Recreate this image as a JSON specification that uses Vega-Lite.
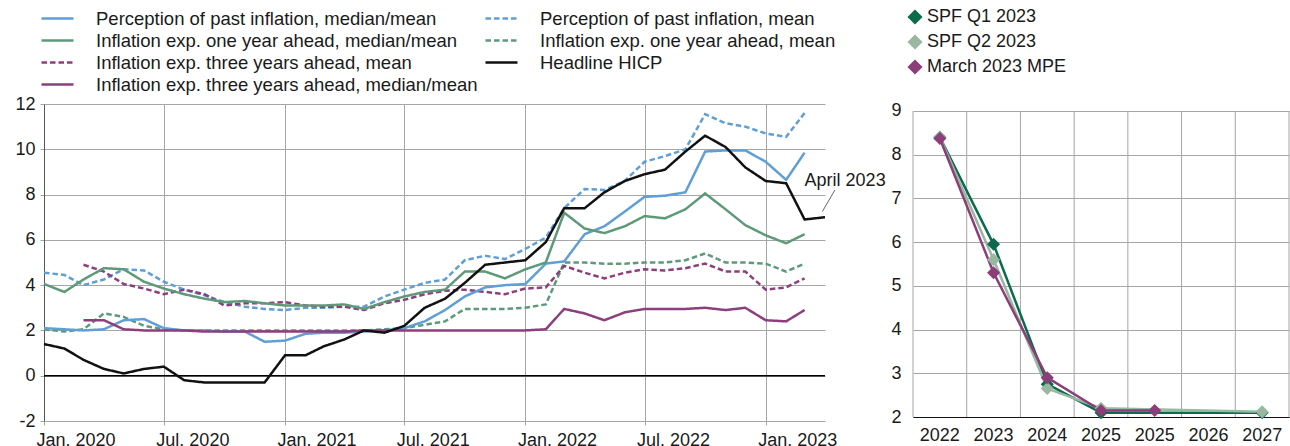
{
  "$schema": "https://vega.github.io/schema/vega-lite/v6.json",
  "padding": {"left": 14, "top": 7, "right": 0, "bottom": 0},
  "columns": 2,
  "align": "none",
  "spacing": 4,
  "resolve": {"scale": {"color": "independent", "strokeDash": "independent"}, "legend": {"color": "independent", "strokeDash": "independent"}},
  "config": {
    "font": "Liberation Sans",
    "view": {"stroke": null},
    "axis": {"labelFont": "Liberation Sans", "labelFontSize": 18, "labelColor": "#1a1a1a", "gridColor": "#a6a6a6", "gridWidth": 1, "tickColor": "#a6a6a6", "title": null},
    "legend": {"labelFont": "Liberation Sans", "labelColor": "#1a1a1a", "title": null}
  },
  "concat": [
    {
      "width": 781,
      "height": 317,
      "data": {"values": [
        {"date": "2020-01-01", "pm": 2.1, "pa": 4.55, "om": 4.05, "oa": 2.05, "ta": null, "tm": null, "hicp": 1.4},
        {"date": "2020-02-01", "pm": 2.05, "pa": 4.45, "om": 3.7, "oa": 1.95, "ta": null, "tm": null, "hicp": 1.2},
        {"date": "2020-03-01", "pm": 2.0, "pa": 4.0, "om": 4.25, "oa": 2.05, "ta": 4.9, "tm": 2.45, "hicp": 0.7},
        {"date": "2020-04-01", "pm": 2.05, "pa": 4.25, "om": 4.75, "oa": 2.75, "ta": 4.6, "tm": 2.45, "hicp": 0.3},
        {"date": "2020-05-01", "pm": 2.45, "pa": 4.7, "om": 4.7, "oa": 2.6, "ta": 4.05, "tm": 2.05, "hicp": 0.1},
        {"date": "2020-06-01", "pm": 2.5, "pa": 4.65, "om": 4.15, "oa": 2.2, "ta": 3.85, "tm": 2.0, "hicp": 0.3},
        {"date": "2020-07-01", "pm": 2.1, "pa": 4.15, "om": 3.85, "oa": 2.05, "ta": 3.6, "tm": 2.0, "hicp": 0.4},
        {"date": "2020-08-01", "pm": 2.0, "pa": 3.8, "om": 3.6, "oa": 2.0, "ta": 3.8, "tm": 2.0, "hicp": -0.2},
        {"date": "2020-09-01", "pm": 2.0, "pa": 3.55, "om": 3.4, "oa": 2.0, "ta": 3.6, "tm": 1.95, "hicp": -0.3},
        {"date": "2020-10-01", "pm": 1.95, "pa": 3.25, "om": 3.25, "oa": 2.0, "ta": 3.1, "tm": 1.95, "hicp": -0.3},
        {"date": "2020-11-01", "pm": 1.95, "pa": 3.05, "om": 3.3, "oa": 2.0, "ta": 3.2, "tm": 1.95, "hicp": -0.3},
        {"date": "2020-12-01", "pm": 1.5, "pa": 2.95, "om": 3.2, "oa": 2.0, "ta": 3.2, "tm": 1.95, "hicp": -0.3},
        {"date": "2021-01-01", "pm": 1.55, "pa": 2.9, "om": 3.1, "oa": 2.0, "ta": 3.25, "tm": 1.95, "hicp": 0.9},
        {"date": "2021-02-01", "pm": 1.85, "pa": 3.0, "om": 3.1, "oa": 2.0, "ta": 3.1, "tm": 1.95, "hicp": 0.9},
        {"date": "2021-03-01", "pm": 1.9, "pa": 3.0, "om": 3.1, "oa": 2.0, "ta": 3.05, "tm": 1.95, "hicp": 1.3},
        {"date": "2021-04-01", "pm": 1.9, "pa": 3.05, "om": 3.15, "oa": 2.0, "ta": 3.05, "tm": 1.95, "hicp": 1.6},
        {"date": "2021-05-01", "pm": 1.95, "pa": 3.05, "om": 2.95, "oa": 2.0, "ta": 2.9, "tm": 2.0, "hicp": 2.0},
        {"date": "2021-06-01", "pm": 2.0, "pa": 3.5, "om": 3.25, "oa": 2.05, "ta": 3.2, "tm": 2.0, "hicp": 1.9},
        {"date": "2021-07-01", "pm": 2.1, "pa": 3.8, "om": 3.5, "oa": 2.1, "ta": 3.35, "tm": 2.0, "hicp": 2.2},
        {"date": "2021-08-01", "pm": 2.4, "pa": 4.1, "om": 3.7, "oa": 2.25, "ta": 3.6, "tm": 2.0, "hicp": 3.0},
        {"date": "2021-09-01", "pm": 2.9, "pa": 4.25, "om": 3.8, "oa": 2.4, "ta": 3.75, "tm": 2.0, "hicp": 3.4},
        {"date": "2021-10-01", "pm": 3.5, "pa": 5.1, "om": 4.6, "oa": 2.95, "ta": 3.8, "tm": 2.0, "hicp": 4.1},
        {"date": "2021-11-01", "pm": 3.9, "pa": 5.3, "om": 4.6, "oa": 2.95, "ta": 3.7, "tm": 2.0, "hicp": 4.9},
        {"date": "2021-12-01", "pm": 4.0, "pa": 5.15, "om": 4.3, "oa": 2.95, "ta": 3.6, "tm": 2.0, "hicp": 5.0},
        {"date": "2022-01-01", "pm": 4.05, "pa": 5.6, "om": 4.7, "oa": 3.0, "ta": 3.85, "tm": 2.0, "hicp": 5.1},
        {"date": "2022-02-01", "pm": 4.95, "pa": 6.1, "om": 5.0, "oa": 3.15, "ta": 3.9, "tm": 2.05, "hicp": 5.9},
        {"date": "2022-03-01", "pm": 5.05, "pa": 7.4, "om": 7.2, "oa": 5.0, "ta": 4.85, "tm": 2.95, "hicp": 7.4},
        {"date": "2022-04-01", "pm": 6.25, "pa": 8.25, "om": 6.5, "oa": 5.0, "ta": 4.55, "tm": 2.75, "hicp": 7.4},
        {"date": "2022-05-01", "pm": 6.6, "pa": 8.2, "om": 6.3, "oa": 4.95, "ta": 4.3, "tm": 2.45, "hicp": 8.1},
        {"date": "2022-06-01", "pm": 7.25, "pa": 8.6, "om": 6.6, "oa": 4.95, "ta": 4.55, "tm": 2.8, "hicp": 8.6},
        {"date": "2022-07-01", "pm": 7.9, "pa": 9.45, "om": 7.05, "oa": 5.0, "ta": 4.7, "tm": 2.95, "hicp": 8.9},
        {"date": "2022-08-01", "pm": 7.95, "pa": 9.7, "om": 6.95, "oa": 5.0, "ta": 4.65, "tm": 2.95, "hicp": 9.1},
        {"date": "2022-09-01", "pm": 8.1, "pa": 10.0, "om": 7.35, "oa": 5.1, "ta": 4.75, "tm": 2.95, "hicp": 9.9},
        {"date": "2022-10-01", "pm": 9.9, "pa": 11.55, "om": 8.05, "oa": 5.4, "ta": 4.95, "tm": 3.0, "hicp": 10.6},
        {"date": "2022-11-01", "pm": 9.95, "pa": 11.15, "om": 7.35, "oa": 5.0, "ta": 4.6, "tm": 2.9, "hicp": 10.1},
        {"date": "2022-12-01", "pm": 9.95, "pa": 11.0, "om": 6.65, "oa": 5.0, "ta": 4.6, "tm": 3.0, "hicp": 9.2},
        {"date": "2023-01-01", "pm": 9.45, "pa": 10.7, "om": 6.2, "oa": 4.95, "ta": 3.8, "tm": 2.45, "hicp": 8.6},
        {"date": "2023-02-01", "pm": 8.65, "pa": 10.55, "om": 5.85, "oa": 4.6, "ta": 3.9, "tm": 2.4, "hicp": 8.5},
        {"date": "2023-03-01", "pm": 9.85, "pa": 11.6, "om": 6.25, "oa": 4.95, "ta": 4.3, "tm": 2.9, "hicp": 6.9},
        {"date": "2023-04-01", "pm": null, "pa": null, "om": null, "oa": null, "ta": null, "tm": null, "hicp": 7.0}
      ]},
      "layer": [
        {
          "data": {"values": [{}]},
          "mark": {"type": "rule", "color": "#000000", "strokeWidth": 1.5},
          "encoding": {"y": {"datum": 0, "type": "quantitative", "scale": {"domain": [-2, 12], "nice": false}}}
        },
        {
          "transform": [{"fold": ["pa", "oa", "ta", "pm", "om", "tm", "hicp"], "as": ["s", "v"]}],
          "mark": {"type": "line", "strokeWidth": 2.5},
          "encoding": {
            "x": {
              "field": "date", "type": "temporal",
              "scale": {"type": "utc", "domain": [{"year": 2020, "month": 1, "date": 1, "utc": true}, {"year": 2023, "month": 4, "date": 1, "utc": true}]},
              "axis": {
                "values": [
                  {"year": 2020, "month": 1, "date": 1, "utc": true},
                  {"year": 2020, "month": 7, "date": 1, "utc": true},
                  {"year": 2021, "month": 1, "date": 1, "utc": true},
                  {"year": 2021, "month": 7, "date": 1, "utc": true},
                  {"year": 2022, "month": 1, "date": 1, "utc": true},
                  {"year": 2022, "month": 7, "date": 1, "utc": true},
                  {"year": 2023, "month": 1, "date": 1, "utc": true}
                ],
                "labelExpr": "utcFormat(datum.value, '%b. %Y')",
                "grid": true, "domain": false, "ticks": true, "tickSize": 4,
                "labelAlign": "left", "labelOffset": -8, "labelPadding": 6, "labelFlush": false, "labelOverlap": false
              }
            },
            "y": {
              "field": "v", "type": "quantitative",
              "scale": {"domain": [-2, 12], "nice": false},
              "axis": {"values": [-2, 0, 2, 4, 6, 8, 10, 12], "labelExpr": "datum.value < 0 ? '-' + (-datum.value) : '' + datum.value", "grid": true, "domain": true, "domainColor": "#555555", "ticks": true, "tickSize": 4, "labelPadding": 5}
            },
            "color": {
              "field": "s", "type": "nominal",
              "scale": {"domain": ["pm", "om", "ta", "tm", "pa", "oa", "hicp"], "range": ["#5f9fd6", "#5e9a7a", "#8d3f7c", "#8d3f7c", "#5f9fd6", "#5e9a7a", "#111111"]},
              "legend": {
                "orient": "none", "legendX": 2, "legendY": -97, "padding": 0,
                "columns": 2, "columnPadding": 2, "rowPadding": 1,
                "symbolType": "M-1.6,0L1.6,0", "symbolSize": 400, "symbolStrokeWidth": 2.5,
                "labelFontSize": 18.5, "labelOffset": 27, "labelLimit": 600,
                "labelExpr": "{'pm': 'Perception of past inflation, median/mean', 'pa': 'Perception of past inflation, mean', 'om': 'Inflation exp. one year ahead, median/mean', 'oa': 'Inflation exp. one year ahead, mean', 'ta': 'Inflation exp. three years ahead, mean', 'hicp': 'Headline HICP', 'tm': 'Inflation exp. three years ahead, median/mean'}[datum.value]"
              }
            },
            "strokeDash": {
              "field": "s", "type": "nominal",
              "scale": {"domain": ["pm", "om", "ta", "tm", "pa", "oa", "hicp"], "range": [[1, 0], [1, 0], [5.5, 3], [1, 0], [5.5, 3], [5.5, 3], [1, 0]]}
            }
          }
        },
        {
          "data": {"values": [{"date": "2023-03-01", "v": 8.6, "label": "April 2023"}]},
          "mark": {"type": "text", "align": "left", "baseline": "middle", "fontSize": 18, "color": "#1a1a1a"},
          "encoding": {
            "x": {"field": "date", "type": "temporal"},
            "y": {"field": "v", "type": "quantitative"},
            "text": {"field": "label"}
          }
        },
        {
          "data": {"values": [{"d1": "2023-03-28", "v1": 7.25, "d2": "2023-04-16", "v2": 8.2}]},
          "mark": {"type": "rule", "color": "#666666", "strokeWidth": 1},
          "encoding": {
            "x": {"field": "d1", "type": "temporal"},
            "x2": {"field": "d2"},
            "y": {"field": "v1", "type": "quantitative"},
            "y2": {"field": "v2"}
          }
        }
      ]
    },
    {
      "width": 376,
      "height": 313,
      "data": {"values": [
        {"yr": "2022", "grp": "SPF Q1 2023", "v": 8.4},
        {"yr": "2023", "grp": "SPF Q1 2023", "v": 5.95},
        {"yr": "2024", "grp": "SPF Q1 2023", "v": 2.75},
        {"yr": "2025", "grp": "SPF Q1 2023", "v": 2.1},
        {"yr": "2027", "grp": "SPF Q1 2023", "v": 2.1},
        {"yr": "2022", "grp": "SPF Q2 2023", "v": 8.4},
        {"yr": "2023", "grp": "SPF Q2 2023", "v": 5.6},
        {"yr": "2024", "grp": "SPF Q2 2023", "v": 2.65},
        {"yr": "2025", "grp": "SPF Q2 2023", "v": 2.2},
        {"yr": "2027", "grp": "SPF Q2 2023", "v": 2.12},
        {"yr": "2022", "grp": "March 2023 MPE", "v": 8.37},
        {"yr": "2023", "grp": "March 2023 MPE", "v": 5.3},
        {"yr": "2024", "grp": "March 2023 MPE", "v": 2.9},
        {"yr": "2025", "grp": "March 2023 MPE", "v": 2.15},
        {"yr": "2025b", "grp": "March 2023 MPE", "v": 2.15}
      ]},
      "layer": [
        {
          "data": {"values": [{"yr": "2022"}, {"yr": "2023"}, {"yr": "2024"}, {"yr": "2025"}, {"yr": "2025b"}, {"yr": "2026"}, {"yr": "2027"}]},
          "mark": {"type": "rule", "color": "#a6a6a6", "strokeWidth": 1},
          "encoding": {
            "x": {
              "field": "yr", "type": "ordinal", "bandPosition": 0,
              "scale": {"type": "band", "domain": ["2022", "2023", "2024", "2025", "2025b", "2026", "2027"], "paddingInner": 0, "paddingOuter": 0},
              "axis": {"bandPosition": 0.5, "labelExpr": "datum.value == '2025b' ? '2025' : datum.value", "grid": false, "ticks": false, "domain": true, "domainColor": "#111111", "labelPadding": 9, "labelAngle": 0}
            },
            "y": {
              "datum": 2, "type": "quantitative",
              "scale": {"domain": [2, 9.16], "nice": false, "zero": false},
              "axis": {"values": [2, 3, 4, 5, 6, 7, 8, 9], "grid": true, "domain": false, "ticks": false, "labelPadding": 12}
            },
            "y2": {"datum": 9}
          }
        },
        {
          "data": {"values": [{"yr": "2027"}]},
          "mark": {"type": "rule", "color": "#a6a6a6", "strokeWidth": 1},
          "encoding": {
            "x": {"field": "yr", "type": "ordinal", "bandPosition": 1},
            "y": {"datum": 2, "type": "quantitative"},
            "y2": {"datum": 9}
          }
        },
        {
          "mark": {"type": "line", "strokeWidth": 2.5},
          "encoding": {
            "x": {"field": "yr", "type": "ordinal", "bandPosition": 0.5},
            "y": {"field": "v", "type": "quantitative"},
            "color": {
              "field": "grp", "type": "nominal",
              "scale": {"domain": ["SPF Q1 2023", "SPF Q2 2023", "March 2023 MPE"], "range": ["#0b6b4c", "#9ab7a2", "#8b3e78"]},
              "legend": {"orient": "none", "legendX": -7, "legendY": -96, "padding": 0, "symbolType": "diamond", "symbolSize": 170, "labelFontSize": 18, "labelOffset": 3, "rowPadding": 5, "labelLimit": 400}
            }
          }
        },
        {
          "mark": {"type": "point", "shape": "diamond", "filled": true, "size": 170, "opacity": 1},
          "encoding": {
            "x": {"field": "yr", "type": "ordinal", "bandPosition": 0.5},
            "y": {"field": "v", "type": "quantitative"},
            "color": {"field": "grp", "type": "nominal"}
          }
        }
      ]
    }
  ]
}
